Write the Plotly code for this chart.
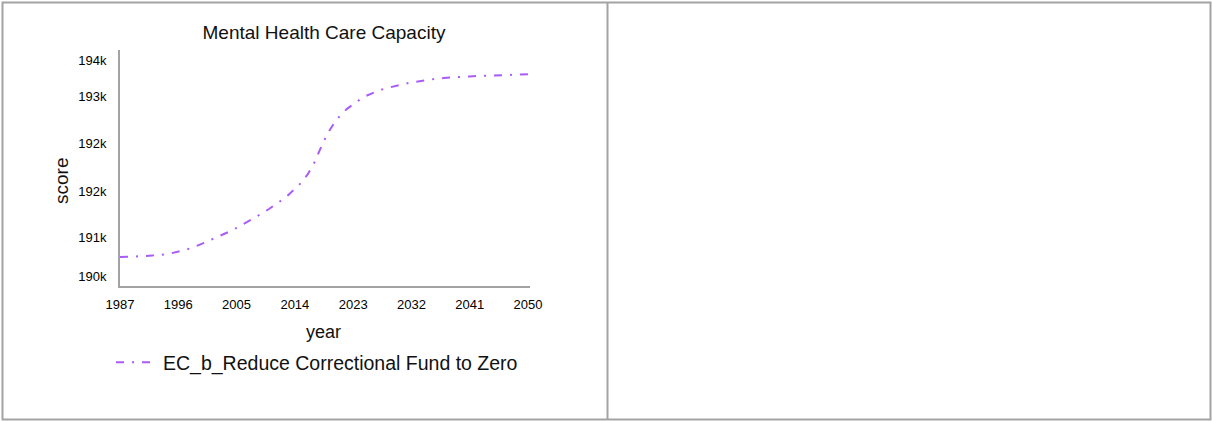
import plotly.graph_objects as go

# ---- data ----
years = list(range(1987, 2051))
capacity = [
    190500, 190502, 190505, 190510, 190517, 190525, 190532, 190545, 190565, 190585,
    190617, 190650, 190690, 190735, 190785, 190830, 190875, 190930, 190985, 191045,
    191100, 191165, 191230, 191300, 191370, 191450, 191535, 191630, 191740, 191880,
    192070, 192320, 192550, 192720, 192860, 192965, 193045, 193120, 193185, 193235,
    193275, 193310, 193340, 193365, 193388, 193410, 193428, 193445, 193460, 193473,
    193484, 193493, 193500, 193505, 193510, 193515, 193519, 193522, 193526, 193530,
    193535, 193540, 193543, 193545,
]
series_name = "EC_b_Reduce Correctional Fund to Zero"
x_ticks = [1987, 1996, 2005, 2014, 2023, 2032, 2041, 2050]
y_tickvals = [190170, 190820, 191590, 192400, 193170, 193780]
y_ticktext = ["190k", "191k", "192k", "192k", "193k", "194k"]

# ---- layout geometry (pixels) ----
W, H = 1212, 421
L, R, T, B = 120, 1212 - 530, 50, 421 - 286
PW, PH = W - L - R, H - T - B


def px(x):
    return (x - L) / PW


def py(y):
    return (H - B - y) / PH


FONT = "Liberation Sans, Arial, sans-serif"
BORDER = "#a3a3a3"
TXT = "#111111"

fig = go.Figure()
fig.add_trace(go.Scatter(
    x=years, y=capacity, mode="lines", name=series_name,
    line=dict(color="#a95cf6", width=2, dash="8px,8px,2px,8px"),
))

shapes = [
    dict(type="rect", xref="paper", yref="paper",
         x0=px(2.5), x1=px(1210.5), y0=py(2.5), y1=py(419.5),
         line=dict(color=BORDER, width=2)),
    dict(type="line", xref="paper", yref="paper",
         x0=px(607.5), x1=px(607.5), y0=py(2.5), y1=py(419.5),
         line=dict(color=BORDER, width=2)),
]

fig.update_layout(
    width=W, height=H,
    margin=dict(l=L, r=R, t=T, b=B, autoexpand=False),
    paper_bgcolor="white", plot_bgcolor="white",
    font=dict(family=FONT, color=TXT),
    title=dict(text="Mental Health Care Capacity", xref="container", yref="container",
               x=324 / W, y=1 - 32 / H, xanchor="center", yanchor="middle",
               font=dict(size=19, color=TXT)),
    showlegend=True,
    legend=dict(x=px(111), y=py(343), xanchor="left", yanchor="top",
                font=dict(size=19.5, color=TXT), bgcolor="rgba(0,0,0,0)",
                itemwidth=42),
    shapes=shapes,
    annotations=[
        dict(text="score", xref="paper", yref="paper", x=px(61), y=py(181),
             showarrow=False, textangle=-90, font=dict(size=19, color=TXT),
             xanchor="center", yanchor="middle"),
        dict(text="year", xref="paper", yref="paper", x=px(323), y=py(332),
             showarrow=False, font=dict(size=18, color=TXT),
             xanchor="center", yanchor="middle"),
    ],
)

fig.update_xaxes(
    range=[1987, 2050.31], tickvals=x_ticks, ticktext=[str(t) for t in x_ticks],
    showline=True, linecolor=BORDER, linewidth=2, showgrid=False, zeroline=False,
    ticks="", tickfont=dict(size=13, color="#000000", family=FONT),
    ticklabelstandoff=5,
)
fig.update_yaxes(
    range=[190017, 193950], tickvals=y_tickvals, ticktext=y_ticktext,
    showline=True, linecolor=BORDER, linewidth=2, showgrid=False, zeroline=False,
    ticks="", tickfont=dict(size=13, color="#000000", family=FONT),
    ticklabelstandoff=9,
)

fig.write_html("out.html", config={"displayModeBar": False},
               post_script="document.body.style.margin='0';")
